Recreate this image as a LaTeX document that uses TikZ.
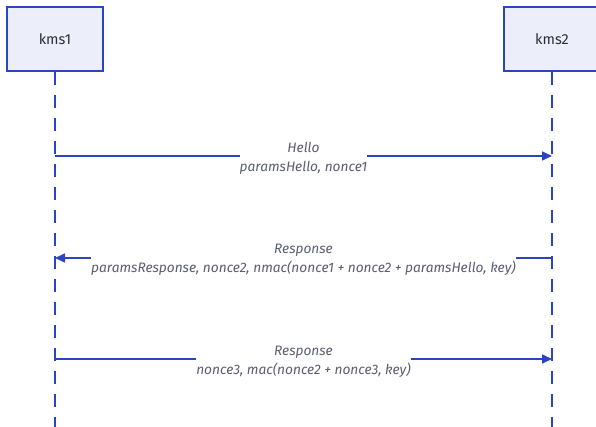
\documentclass[tikz,border=0pt]{standalone}
\usepackage{fontspec}
\setmainfont{Fira Sans}
\usetikzlibrary{arrows.meta}
\definecolor{lineblue}{HTML}{2A44C2}
\definecolor{boxfill}{HTML}{ECEFFA}
\definecolor{msgtext}{HTML}{5A5E70}
\definecolor{nametext}{HTML}{2A2D38}
\tikzset{
  actor/.style={draw=lineblue, line width=2pt, fill=boxfill, minimum width=96pt, minimum height=64pt, inner sep=0pt, font=\fontsize{14.5}{17}\selectfont, text=nametext},
  lifeline/.style={draw=lineblue, line width=2pt, dash pattern=on 13pt off 10pt},
  msg/.style={draw=lineblue, line width=1.6pt, -{Triangle[length=10pt,width=9pt]}},
  msglabel/.style={fill=white, inner sep=0pt, align=center, text=msgtext, font=\fontsize{13.7}{19}\selectfont\itshape}
}
\begin{document}
\begin{tikzpicture}[x=1pt,y=1pt]
\useasboundingbox (0,0) rectangle (596,-427);
\node[actor] (kms1) at (55,-39) {kms1};
\node[actor] (kms2) at (552,-39) {kms2};
\coordinate (l1end) at (55,-430);
\coordinate (l2end) at (552,-430);
\draw[lifeline] (kms1.south) -- (l1end);
\draw[lifeline] (kms2.south) -- (l2end);
\coordinate (a1s) at (55,-156);
\coordinate (a1e) at (552,-156);
\coordinate (a2s) at (552,-258);
\coordinate (a2e) at (55,-258);
\coordinate (a3s) at (55,-359);
\coordinate (a3e) at (552,-359);
\draw[msg] (a1s) -- (a1e);
\draw[msg] (a2s) -- (a2e);
\draw[msg] (a3s) -- (a3e);
\node[msglabel] (m1) at (303.5,-158) {Hello\\paramsHello, nonce1};
\node[msglabel] (m2) at (303.5,-260) {Response\\paramsResponse, nonce2, nmac(nonce1 + nonce2 + paramsHello, key)};
\node[msglabel] (m3) at (303.5,-362) {Response\\nonce3, mac(nonce2 + nonce3, key)};
\end{tikzpicture}
\end{document}
